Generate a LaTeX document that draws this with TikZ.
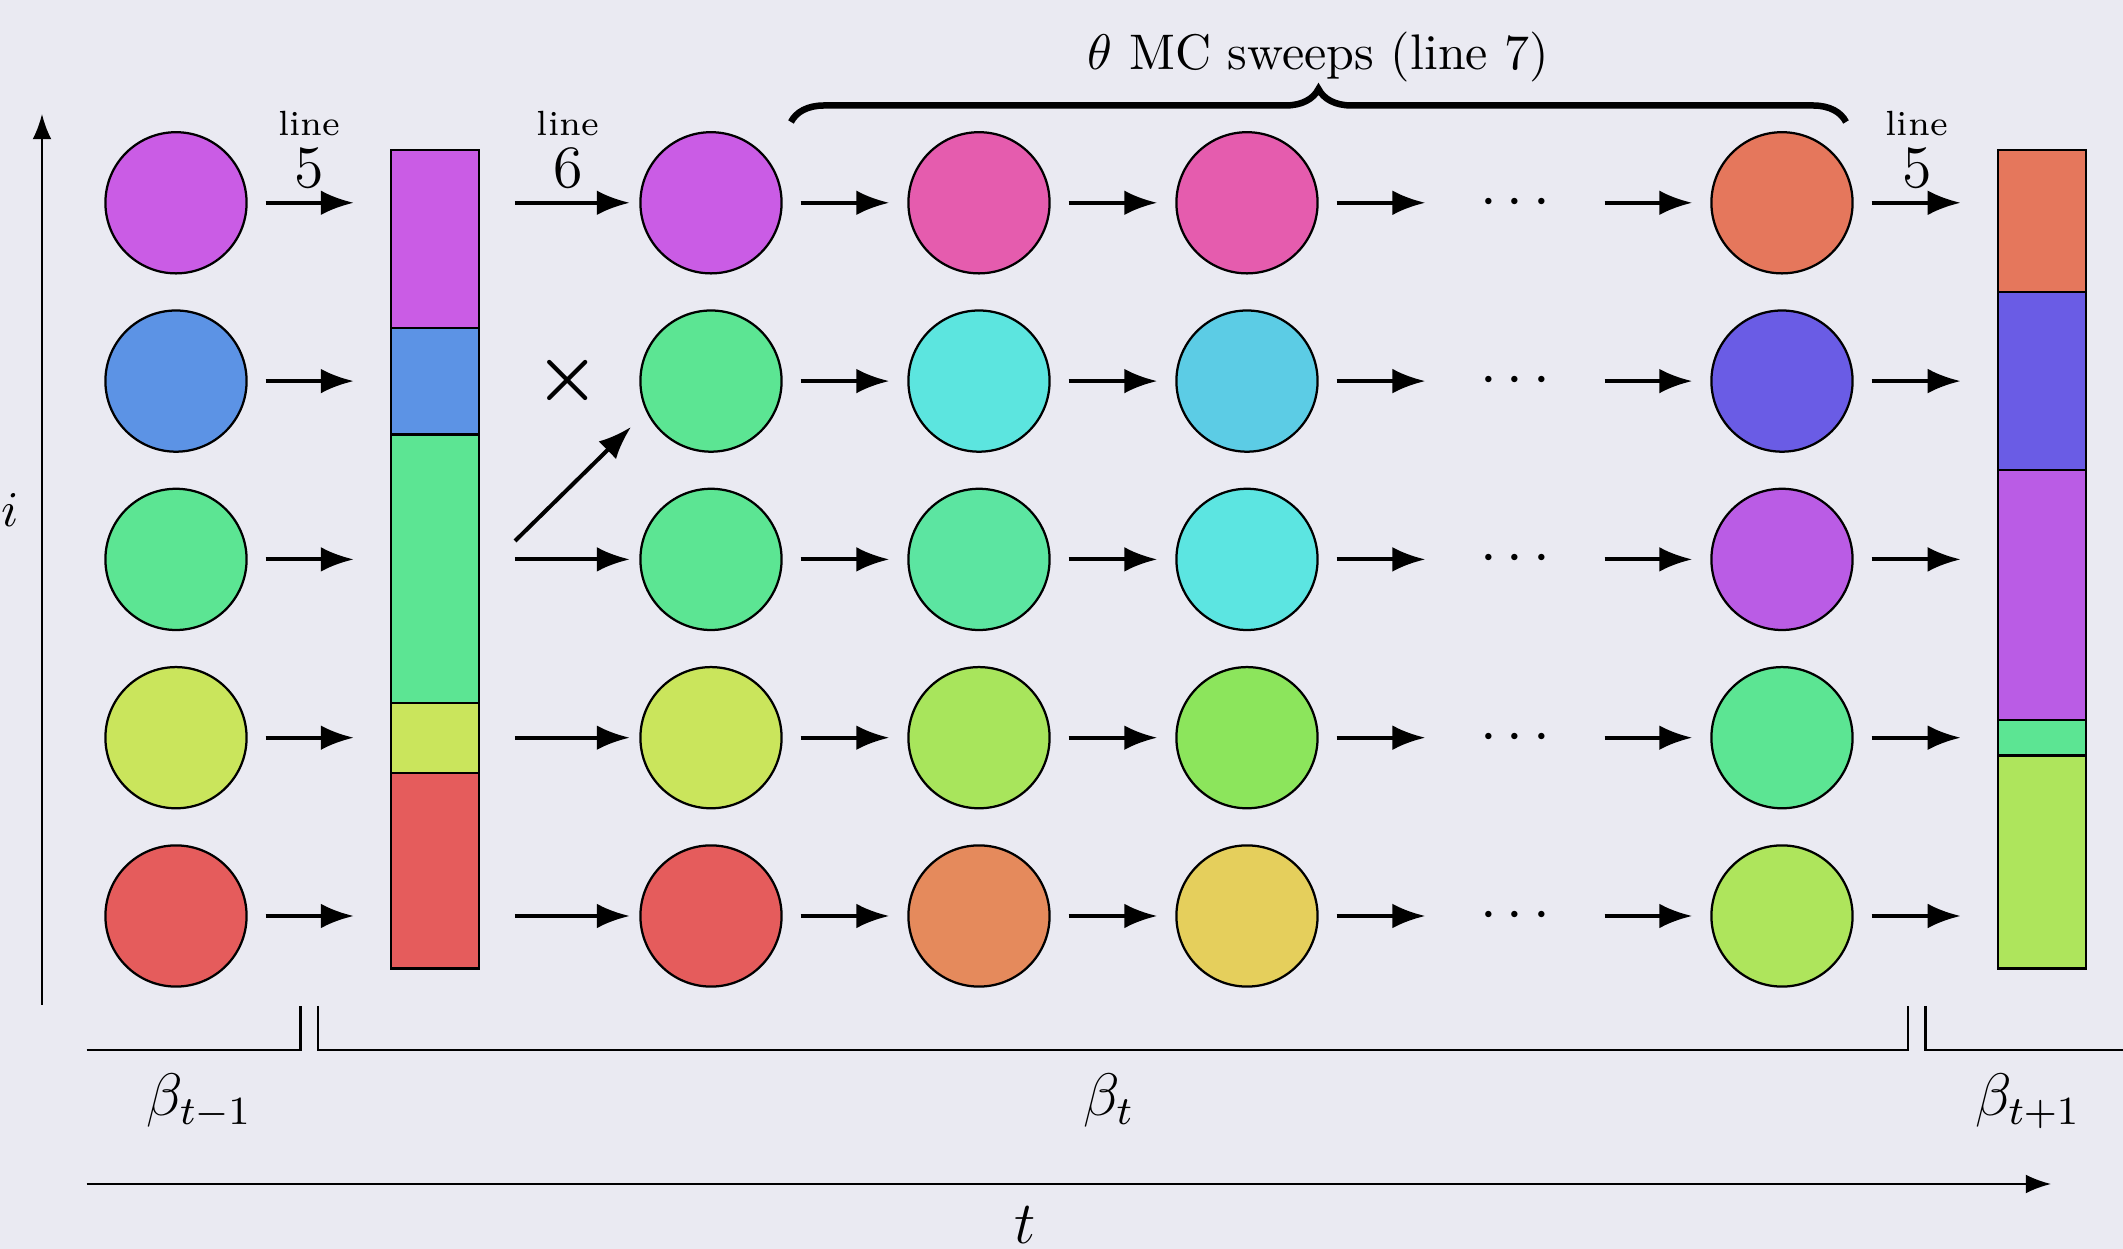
\documentclass[tikz,border=0pt]{standalone}
\usetikzlibrary{arrows.meta,decorations.pathreplacing,calc}

\definecolor{bg}{HTML}{EAEAF2}
% palette: fixed saturation and brightness, only the hue changes (stored as rgb)
\newcommand\hsbcol[2]{\definecolor{hsbtmp}{Hsb}{#2,0.6,0.9}\colorlet{#1}[rgb]{hsbtmp}}
% column 0 (beta_{t-1})
\hsbcol{kc0r1}{288}\hsbcol{kc0r2}{216}\hsbcol{kc0r3}{144}\hsbcol{kc0r4}{72}\hsbcol{kc0r5}{0}
% column 1 (after resampling)
\hsbcol{kc1r1}{288}\hsbcol{kc1r2}{144}\hsbcol{kc1r3}{144}\hsbcol{kc1r4}{72}\hsbcol{kc1r5}{0}
% columns 2 and 3 (sweeps)
\hsbcol{kc2r1}{324}\hsbcol{kc2r2}{177}\hsbcol{kc2r3}{150}\hsbcol{kc2r4}{87}\hsbcol{kc2r5}{20}
\hsbcol{kc3r1}{324}\hsbcol{kc3r2}{191}\hsbcol{kc3r3}{178}\hsbcol{kc3r4}{99}\hsbcol{kc3r5}{50}
% last column
\hsbcol{kc5r1}{12}\hsbcol{kc5r2}{246}\hsbcol{kc5r3}{281}\hsbcol{kc5r4}{144}\hsbcol{kc5r5}{84}

\tikzset{
  ball/.style={circle, draw=black, line width=0.45pt, minimum size=28.24pt, inner sep=0pt},
  gapnode/.style={circle, minimum size=28.24pt, inner sep=0pt, font=\large},
  seg/.style={rectangle, draw=black, line width=0.45pt, minimum width=17.6pt,
              inner sep=0pt, outer sep=0pt, anchor=north},
  flow/.style={-{Latex}, thick},
  axisline/.style={-{Latex}, line width=0.45pt},
  bracket/.style={line width=0.5pt},
  sweepbrace/.style={decorate, decoration={brace, amplitude=6.6pt}, line width=1.3pt},
  tinylabel/.style={anchor=base, font=\fontsize{7}{8}\selectfont},
  numlabel/.style={anchor=base, font=\large},
}

\begin{document}
\begin{tikzpicture}[x=0.2pt, y=-0.2pt]
  \fill[bg] (0,0) rectangle (2123,1249);
  \useasboundingbox (0,0) rectangle (2123,1249);

  % replicas
  \foreach \cn/\x in {0/176, 1/711, 2/979, 3/1247, 5/1782}{
    \foreach \r in {1,...,5}{
      \pgfmathsetmacro\y{202.8+(\r-1)*178.3}
      \node[ball, fill=kc\cn r\r] (c\cn-\r) at (\x,\y) {};
    }
  }
  \foreach \r in {1,...,5}{
    \pgfmathsetmacro\y{202.8+(\r-1)*178.3}
    \node[gapnode] (d-\r) at (1515,\y) {\raisebox{-0.8pt}{$\cdots$}};
  }

  % weight bars
  \foreach \i/\a/\b in {1/150/327.7, 2/327.7/434.5, 3/434.5/702.7, 4/702.7/773.1, 5/773.1/968.5}{
    \pgfmathsetmacro\h{(\b-\a)*0.2}
    \node[seg, fill=kc0r\i, minimum height=\h pt] (b1s\i) at (434.8,\a) {};
  }
  \foreach \i/\a/\b in {1/150/291.8, 2/291.8/469.8, 3/469.8/719.7, 4/719.7/755.6, 5/755.6/968.5}{
    \pgfmathsetmacro\h{(\b-\a)*0.2}
    \node[seg, fill=kc5r\i, minimum height=\h pt] (b2s\i) at (2041.7,\a) {};
  }

  % flow arrows
  \foreach \r in {1,...,5}{
    \draw[flow, shorten <=3.6pt, shorten >=7.4pt] (c0-\r) -- (c0-\r -| b1s1.west);
    \draw[flow, shorten <=3.6pt, shorten >=3.6pt] (c1-\r) -- (c2-\r);
    \draw[flow, shorten <=3.6pt, shorten >=3.6pt] (c2-\r) -- (c3-\r);
    \draw[flow, shorten <=3.6pt, shorten >=3.6pt] (c3-\r) -- (d-\r);
    \draw[flow, shorten <=3.6pt, shorten >=3.6pt] (d-\r) -- (c5-\r);
    \draw[flow, shorten <=3.6pt, shorten >=7.4pt] (c5-\r) -- (c5-\r -| b2s1.west);
  }
  \foreach \r in {1,3,4,5}{
    \draw[flow, shorten <=7.2pt, shorten >=1.9pt] (c1-\r -| b1s1.east) -- (c1-\r);
  }

  % resampling: replica 2 is dropped, replica 3 is copied
  \node[font=\Large\boldmath] (drop) at (568,381) {$\times$};
  \coordinate (copyA) at (515,541);
  \coordinate (copyB) at (631,427);
  \draw[flow] (copyA) -- (copyB);

  % algorithm line labels
  \node[numlabel] (n5a) at (309.5,188) {5};
  \node[tinylabel] (l5a) at (309.5,136) {line};
  \node[numlabel] (n6) at (568,188) {6};
  \node[tinylabel] (l6) at (568,136) {line};
  \node[numlabel] (n5b) at (1916.7,188) {5};
  \node[tinylabel] (l5b) at (1916.7,136) {line};

  % sweeps brace
  \coordinate (brL) at (791,122);
  \coordinate (brR) at (1846,122);
  \draw[sweepbrace] (brL) -- (brR);
  \node[anchor=base] (sweeps) at (1318.5,70) {$\theta$ MC sweeps (line 7)};

  % replica axis
  \coordinate (iA) at (42,1005);
  \coordinate (iB) at (42,114);
  \draw[axisline] (iA) -- (iB);
  \node[anchor=base] (ilab) at (10.5,527) {$i$};

  % temperature intervals
  \draw[bracket] (86.7,1050) -- (300.6,1050) -- (300.6,1006);
  \draw[bracket] (318.2,1006) -- (318.2,1050) -- (1907.8,1050) -- (1907.8,1006);
  \draw[bracket] (1925.4,1006) -- (1925.4,1050) -- (2140,1050);
  \node[numlabel] (bprev) at (199.5,1116) {$\beta_{t-1}$};
  \node[numlabel] (bcur) at (1109,1116) {$\beta_{t}$};
  \node[numlabel] (bnext) at (2028,1116) {$\beta_{t+1}$};

  % time axis
  \coordinate (tA) at (86.7,1184);
  \coordinate (tB) at (2051,1184);
  \draw[axisline] (tA) -- (tB);
  \node[numlabel] (tlab) at (1025,1244) {$t$};
\end{tikzpicture}
\end{document}
